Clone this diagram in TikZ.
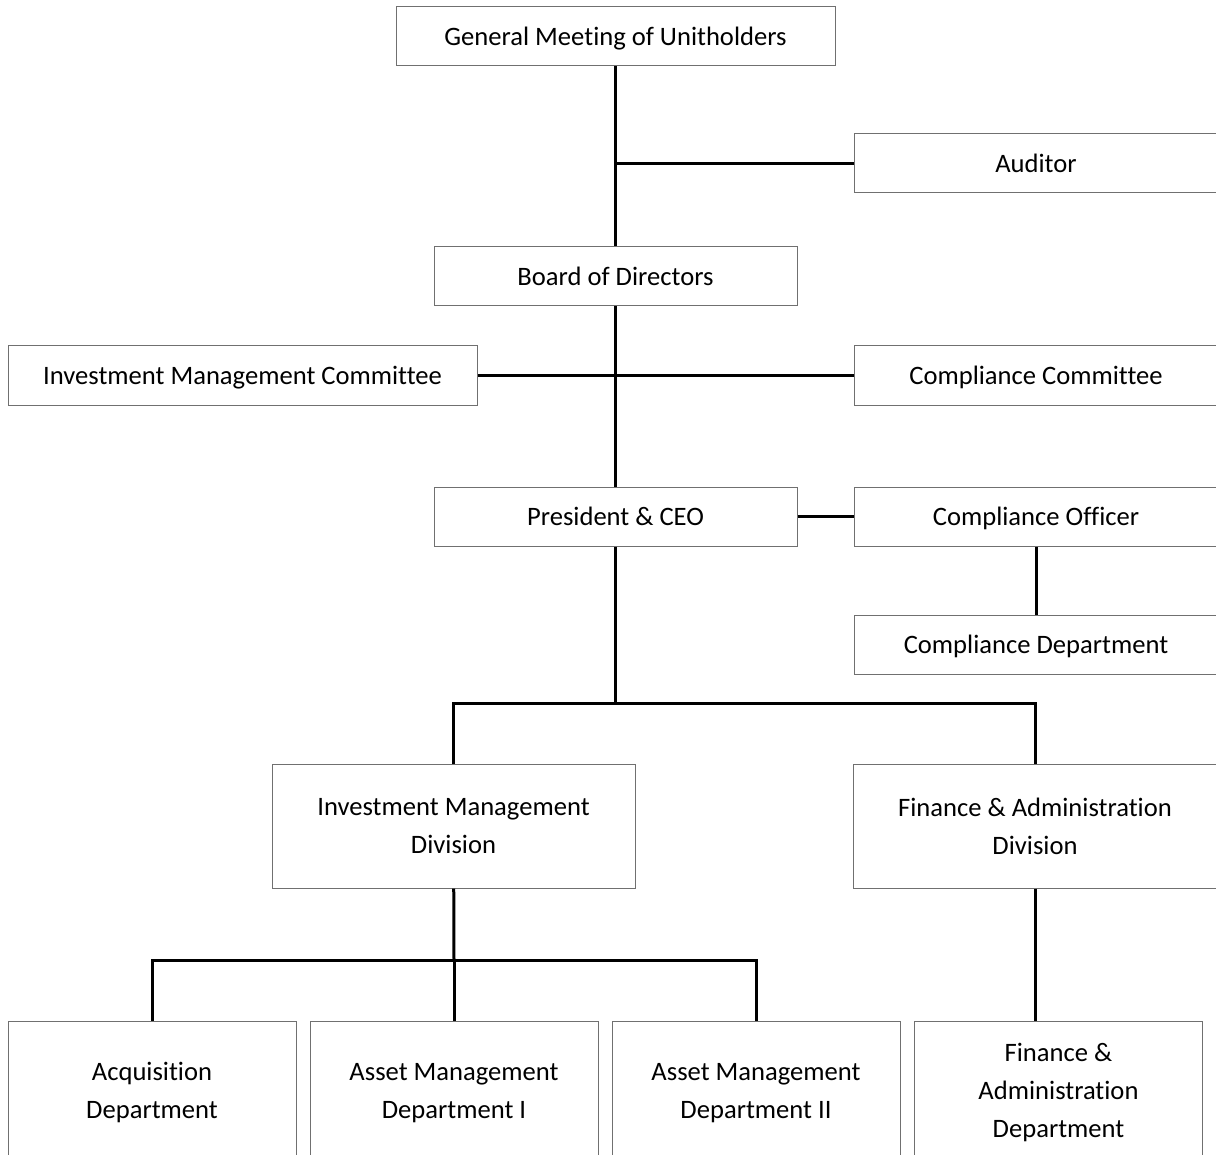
\documentclass[tikz,border=0pt]{standalone}
\usepackage{fontspec}
\setmainfont{Carlito}[Ligatures=NoCommon]
\usepackage{tikz}

\definecolor{boxgray}{RGB}{112,112,112}

\begin{document}
\begin{tikzpicture}[
                x=0.5pt, y=-0.5pt,                 % 1 unit = 1 px of the chart
                every node/.style={
                    rectangle,
                    draw=boxgray,
                    line width=0.5pt,
                    align=center,
                    inner sep=2pt,
                    text depth=0pt,
                    font=\fontsize{13.3}{19}\selectfont
                },
                unit/.style={minimum width=181.5pt, minimum height=29.5pt},
                division/.style={minimum width=181.5pt, minimum height=62pt},
                dept/.style={minimum width=144pt, minimum height=69.5pt},
                link/.style={line width=1.5pt}
            ]
                \clip (0,0) rectangle (1216,1155);

                % boxes
                \node[minimum width=219.5pt, minimum height=29.5pt] (gm) at (615.5,36.5) {General Meeting of Unitholders};
                \node[unit] (auditor) at (1036,163.5) {Auditor};
                \node[unit] (board) at (615.5,276.5) {Board of Directors};
                \node[minimum width=234.5pt, minimum height=29.5pt] (imc) at (242.5,375.5) {Investment Management Committee};
                \node[unit] (cc) at (1036,375.5) {Compliance Committee};
                \node[unit] (ceo) at (615.5,516.5) {President \& CEO};
                \node[unit] (co) at (1036,516.5) {Compliance Officer};
                \node[unit] (cd) at (1036,644.5) {Compliance Department};
                \node[division] (imd) at (453.5,826) {Investment Management\\Division};
                \node[division] (fad) at (1035,826) {Finance \& Administration\\Division};
                \node[dept] (acq) at (152,1090.5) {Acquisition\\Department};
                \node[dept] (am1) at (454,1090.5) {Asset Management\\Department I};
                \node[dept] (am2) at (756,1090.5) {Asset Management\\Department II};
                \node[dept] (fadept) at (1058.5,1090.5) {Finance \&\\Administration\\Department};

                % junctions
                \coordinate (j0) at (615.5,163.5);
                \coordinate (j2) at (615.5,703);
                \coordinate (j3) at (454,960);

                % lines
                \draw[link] (gm) -- (board);
                \draw[link] (j0) -- (auditor);
                \draw[link] (board) -- (ceo);
                \draw[link] (imc) -- (cc);
                \draw[link] (ceo) -- (co);
                \draw[link] (co.south) -- (cd.north);
                \draw[link] (ceo) -- (j2);
                \draw[link] (imd) |- (j2) -| (fad);
                \draw[link] (imd) -- (j3);
                \draw[link] (acq) |- (j3) -| (am2);
                \draw[link] (j3) -- (am1);
                \draw[link] (fad.south) -- (fad.south |- fadept.north);
            \end{tikzpicture}
\end{document}
